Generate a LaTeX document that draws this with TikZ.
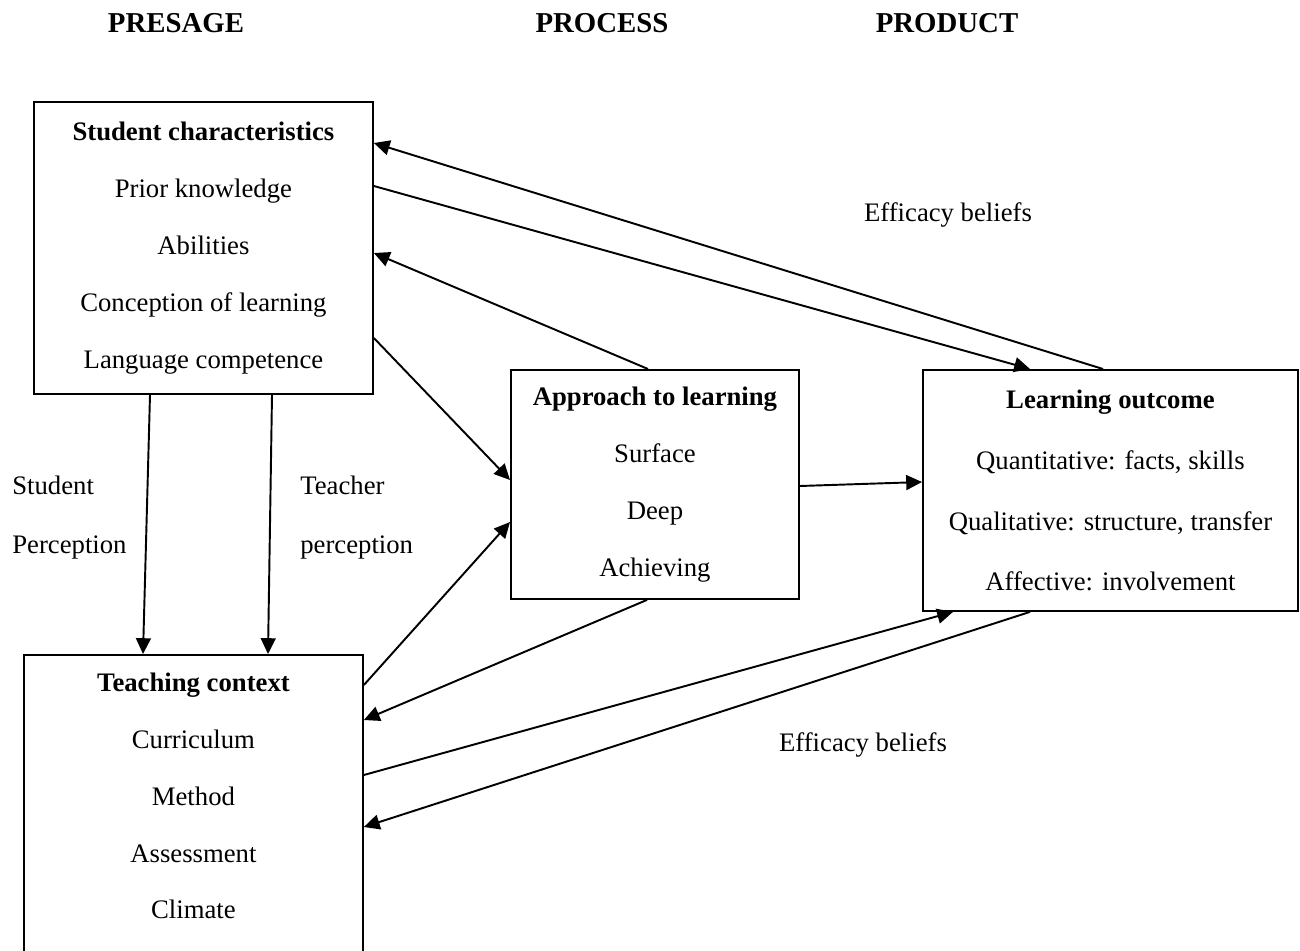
\documentclass[tikz,border=0pt]{standalone}
\usepackage{fontspec}
\setmainfont{Liberation Serif}
\usetikzlibrary{arrows.meta,calc}
\newcommand{\boxfont}{\fontsize{15.2pt}{32.4pt}\selectfont}
\newcommand{\headfont}{\fontsize{16.4pt}{20pt}\selectfont\bfseries}

\begin{document}
\begin{tikzpicture}[x=0.02cm, y=-0.02cm,
    every node/.style={font=\boxfont},
    box/.style={draw, line width=1.1pt, inner sep=0pt, align=center, anchor=north west},
    lbl/.style={inner sep=0pt, anchor=west},
    arr/.style={-{Triangle[length=9pt,width=8.5pt]}, line width=1.1pt}]
    \useasboundingbox (0,0) rectangle (1300,950);
    \clip (0,0) rectangle (1300,950);
    % Column titles
    \node[font=\headfont] (presage) at (176, 23) {PRESAGE};
    \node[font=\headfont] (process) at (602, 23) {PROCESS};
    \node[font=\headfont] (product) at (947, 23) {PRODUCT};
    % Boxes
    \node[box, minimum width=6.78cm, minimum height=5.84cm] (sc) at (33, 101)
        {\textbf{Student characteristics}\\Prior knowledge\\Abilities\\Conception of learning\\Language competence};
    \node[box, minimum width=6.78cm, minimum height=6.78cm] (tc) at (23, 654)
        {\textbf{Teaching context}\\Curriculum\\Method\\Assessment\\Climate\\\vphantom{Climate}};
    \node[box, minimum width=5.76cm, minimum height=4.58cm] (al) at (510, 369)
        {\textbf{Approach to learning}\\Surface\\Deep\\Achieving};
    \node[box, minimum width=7.5cm, minimum height=4.82cm,
        font=\fontsize{15.2pt}{34.7pt}\selectfont] (lo) at (922, 369)
        {\textbf{Learning outcome}\\Quantitative: facts, skills\\Qualitative: structure, transfer\\Affective: involvement};
    % Labels
    \node (eff1) at (948, 215) {Efficacy beliefs};
    \node (eff2) at (863, 745) {Efficacy beliefs};
    \node[lbl] (stud1) at (12, 485) {Student};
    \node[lbl] (stud2) at (12, 547) {Perception};
    \node[lbl] (teach1) at (300, 485) {Teacher};
    \node[lbl] (teach2) at (300, 547) {perception};
    % Arrows
    \draw[arr] ($(lo.north west)+(181,0)$) -- ($(sc.north east)+(0,42)$);
    \draw[arr] ($(sc.north east)+(0,85)$) -- ($(lo.north west)+(108,0)$);
    \draw[arr] ($(al.north west)+(138,0)$) -- ($(sc.north east)+(0,152)$);
    \draw[arr] ($(sc.north east)+(0,237)$) -- ($(al.north west)+(0,111)$);
    \draw[arr] ($(tc.north east)+(0,31)$) -- ($(al.north west)+(0,153)$);
    \draw[arr] ($(al.south west)+(137,0)$) -- ($(tc.north east)+(0,66)$);
    \draw[arr] ($(al.north east)+(0,117)$) -- ($(lo.north west)+(0,113)$);
    \draw[arr] ($(tc.north east)+(0,121)$) -- ($(lo.south west)+(31,0)$);
    \draw[arr] ($(lo.south west)+(108,0)$) -- ($(tc.north east)+(0,173)$);
    \draw[arr] ($(sc.south west)+(117,0)$) -- ($(tc.north west)+(120,0)$);
    \draw[arr] ($(sc.south west)+(239,0)$) -- ($(tc.north west)+(245,0)$);
\end{tikzpicture}
\end{document}
